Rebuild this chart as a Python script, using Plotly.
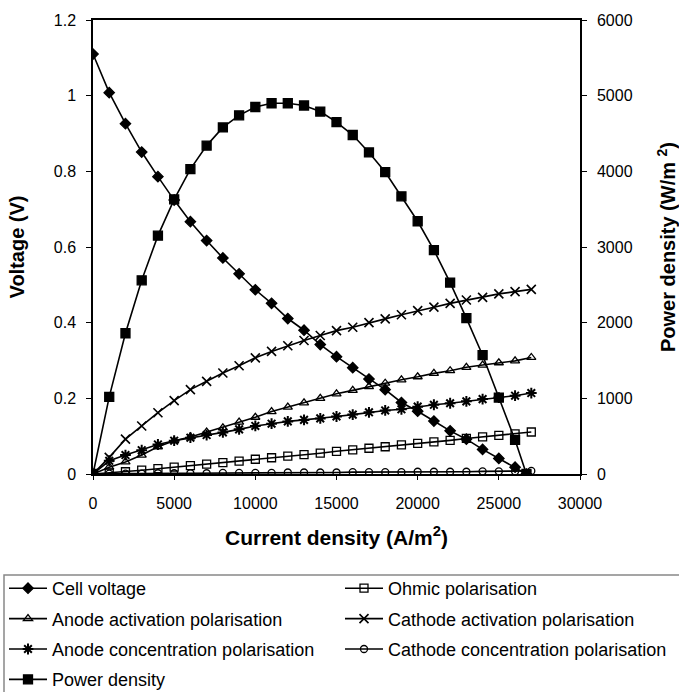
import plotly.graph_objects as go

current = [0, 1000, 2000, 3000, 4000, 5000, 6000, 7000, 8000, 9000, 10000,
           11000, 12000, 13000, 14000, 15000, 16000, 17000, 18000, 19000, 20000,
           21000, 22000, 23000, 24000, 25000, 26000, 27000]
current_cell = [0, 1000, 2000, 3000, 4000, 5000, 6000, 7000, 8000, 9000, 10000,
                11000, 12000, 13000, 14000, 15000, 16000, 17000, 18000, 19000, 20000,
                21000, 22000, 23000, 24000, 25000, 26000, 26700]

cell_voltage = [1.110, 1.008, 0.926, 0.851, 0.786, 0.724, 0.667, 0.617, 0.571, 0.529,
                0.487, 0.451, 0.411, 0.380, 0.342, 0.310, 0.281, 0.251, 0.223, 0.189,
                0.166, 0.140, 0.114, 0.092, 0.065, 0.041, 0.018, 0.0]
power_density = [0, 1020, 1860, 2560, 3150, 3630, 4030, 4340, 4580, 4740, 4850,
                 4900, 4900, 4870, 4790, 4650, 4480, 4250, 3990, 3670, 3340,
                 2960, 2530, 2060, 1570, 1010, 450, 0]
ohmic = [0, 0.003, 0.006, 0.010, 0.014, 0.018, 0.022, 0.026, 0.030, 0.034, 0.039,
         0.043, 0.047, 0.051, 0.055, 0.060, 0.064, 0.068, 0.072, 0.077, 0.081,
         0.085, 0.089, 0.094, 0.098, 0.102, 0.106, 0.111]
anode_act = [0, 0.018, 0.032, 0.050, 0.072, 0.088, 0.098, 0.111, 0.122, 0.137, 0.150,
             0.165, 0.177, 0.188, 0.200, 0.212, 0.221, 0.231, 0.240, 0.249, 0.257,
             0.266, 0.273, 0.282, 0.288, 0.294, 0.299, 0.308]
cathode_act = [0, 0.044, 0.092, 0.127, 0.162, 0.194, 0.223, 0.245, 0.267, 0.286, 0.307,
               0.324, 0.339, 0.353, 0.366, 0.379, 0.388, 0.400, 0.410, 0.421, 0.432,
               0.441, 0.451, 0.460, 0.467, 0.476, 0.482, 0.488]
anode_conc = [0, 0.035, 0.050, 0.063, 0.078, 0.088, 0.096, 0.103, 0.110, 0.118, 0.127,
              0.133, 0.139, 0.143, 0.147, 0.152, 0.157, 0.163, 0.168, 0.171, 0.178,
              0.183, 0.187, 0.192, 0.198, 0.202, 0.207, 0.214]
cathode_conc = [0, 0.001, 0.001, 0.001, 0.002, 0.002, 0.002, 0.002, 0.003, 0.003, 0.003,
                0.003, 0.004, 0.004, 0.004, 0.004, 0.005, 0.005, 0.005, 0.005, 0.006,
                0.006, 0.006, 0.006, 0.007, 0.007, 0.007, 0.008]

FONT = "Liberation Sans, Arial, sans-serif"
LW = 1.6
W, H = 679, 692

fig = go.Figure()

def add(name, x, y, symbol, size, legend, yaxis="y", lw_marker=1.3):
    fig.add_trace(go.Scatter(
        x=x, y=y, name=name, mode="lines+markers", yaxis=yaxis,
        legend=legend, legendgroup=name,
        line=dict(color="black", width=LW),
        marker=dict(symbol=symbol, size=size, color="black",
                    line=dict(color="black", width=lw_marker)),
    ))

add("Cell voltage", current_cell, cell_voltage, "diamond", 8, "legend")
add("Ohmic polarisation", current, ohmic, "square-open", 8, "legend2")
add("Anode activation polarisation", current, anode_act, "triangle-up-open", 8, "legend")
add("Cathode activation polarisation", current, cathode_act, "x-thin-open", 9, "legend2", lw_marker=1.6)
add("Anode concentration polarisation", current, anode_conc, "asterisk-open", 9, "legend", lw_marker=2)
add("Cathode concentration polarisation", current, cathode_conc, "circle-open", 7, "legend2")
add("Power density", current_cell, power_density, "square", 9, "legend", yaxis="y2")

# plot area in pixels: x 93..580, y 20..474
PL, PR, PT, PB = 93, 580, 20, 474
def px_x(p):
    return (p - PL) / (PR - PL)
def px_y(p):
    return (PB - p) / (PB - PT)

def leg(xpx, ypx):
    return dict(
        orientation="v", x=px_x(xpx), xanchor="left", y=px_y(ypx), yanchor="top",
        yref="paper", xref="paper",
        borderwidth=0, bgcolor="rgba(0,0,0,0)",
        font=dict(family=FONT, size=18, color="black"),
        itemwidth=38, tracegroupgap=4,
    )

fig.update_layout(
    width=W, height=H,
    margin=dict(l=PL, r=W - PR, t=PT, b=H - PB, autoexpand=False),
    paper_bgcolor="white", plot_bgcolor="white",
    font=dict(family=FONT, color="black", size=16),
    showlegend=True,
    legend=leg(4, 570), legend2=leg(340, 570),
    shapes=[dict(type="rect", xref="paper", yref="paper",
                 x0=px_x(4), x1=px_x(W + 5), y0=px_y(575), y1=px_y(H + 5),
                 line=dict(color="#888888", width=1.5), fillcolor="rgba(0,0,0,0)",
                 layer="below")],
    xaxis=dict(
        range=[0, 30000], dtick=5000, tick0=0, tickformat="d",
        showgrid=False, zeroline=False,
        showline=True, linecolor="black", linewidth=1.5, mirror=True,
        ticks="outside", ticklen=4, tickcolor="black",
        tickfont=dict(size=16), ticklabelstandoff=10,
        title=dict(text="<b>Current density (A/m<sup>2</sup>)</b>",
                   font=dict(size=21), standoff=19),
    ),
    yaxis=dict(
        range=[0, 1.2], dtick=0.2, tick0=0,
        showgrid=False, zeroline=False,
        showline=True, linecolor="black", linewidth=1.5, mirror=True,
        ticks="outside", ticklen=5, tickcolor="black",
        tickfont=dict(size=16), ticklabelstandoff=7,
        title=dict(text="<b>Voltage (V)</b>", font=dict(size=20), standoff=24),
    ),
    yaxis2=dict(
        range=[0, 6000], dtick=1000, tick0=0, tickformat="d",
        overlaying="y", side="right",
        showgrid=False, zeroline=False,
        showline=True, linecolor="black", linewidth=1.5,
        ticks="outside", ticklen=5, tickcolor="black",
        tickfont=dict(size=16), ticklabelstandoff=7,
        title=dict(text="<b>Power density (W/m <sup>2</sup>)</b>", font=dict(size=20), standoff=35),
    ),
)

fig.write_html("out.html")
